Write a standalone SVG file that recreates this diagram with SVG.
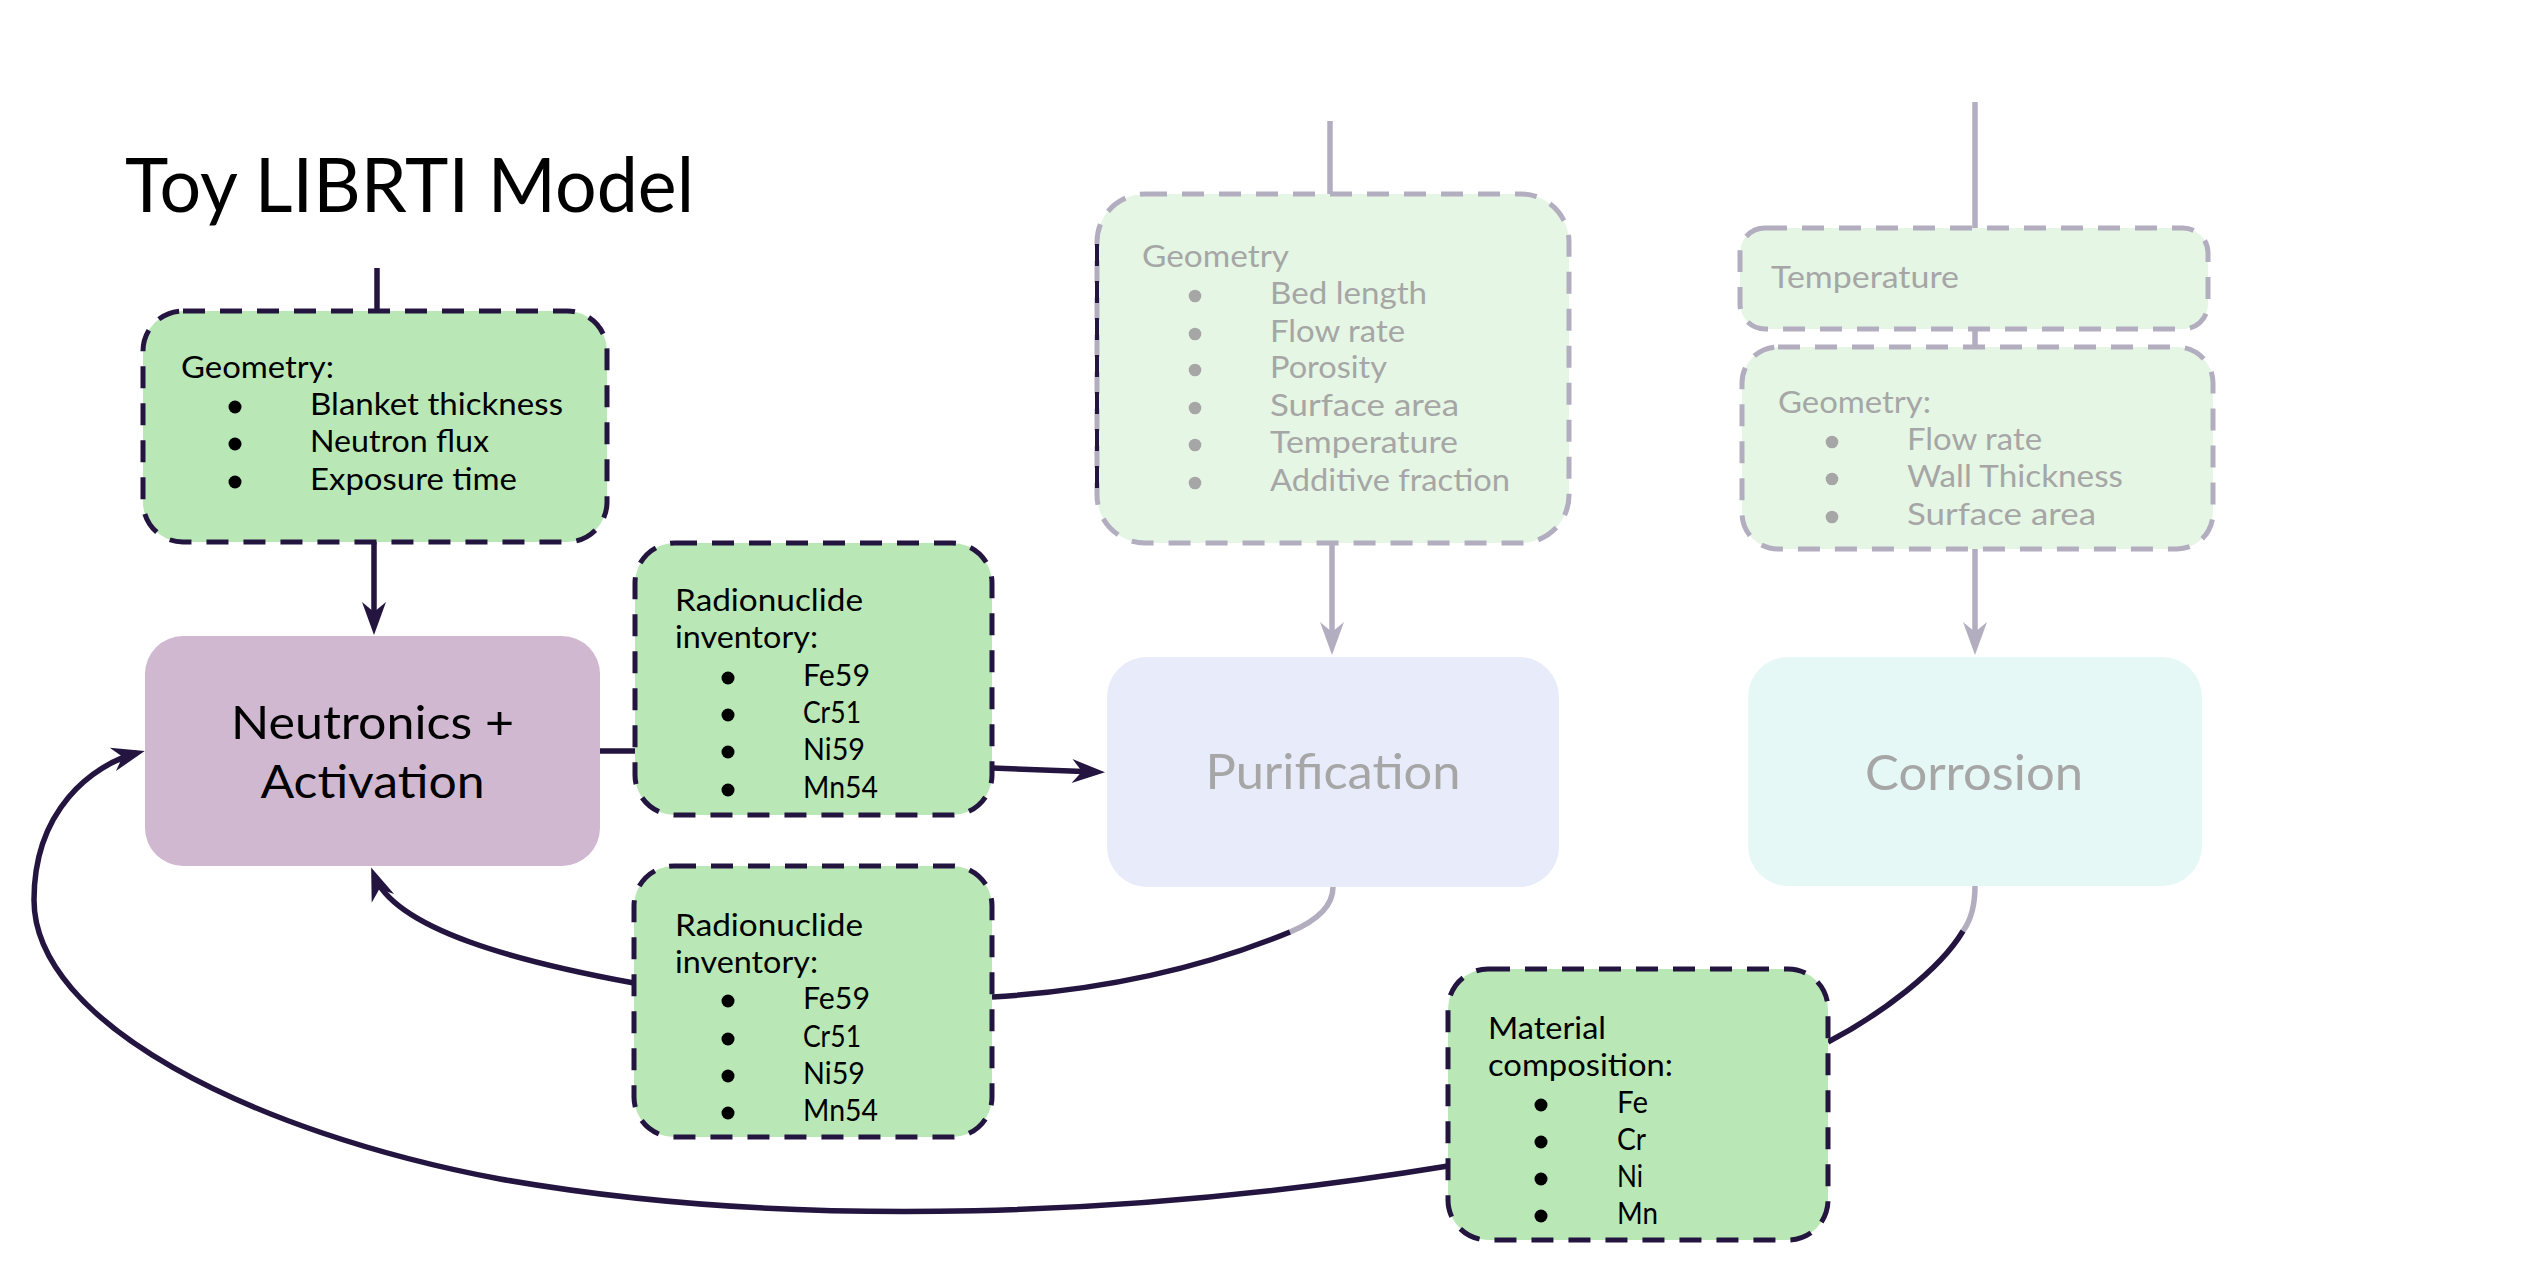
<svg xmlns="http://www.w3.org/2000/svg" width="2539" height="1288" viewBox="0 0 2539 1288">
<defs>
<style>
text{font-family:Lato,"Open Sans","Liberation Sans",sans-serif;}
.t{font-size:30px;fill:#000;}
.g{font-size:30px;fill:#a6a6a6;}
.big{font-size:46px;fill:#000;text-anchor:middle;}
.bigg{font-size:48px;fill:#a6a6a6;text-anchor:middle;}
.dbox{fill:#b9e8b6;stroke:#231540;stroke-width:5;stroke-dasharray:22 15;}
.gbox{fill:#e5f6e4;stroke:#b3adc0;stroke-width:5;stroke-dasharray:22 15;}
.dl{fill:none;stroke:#231540;stroke-width:5.5;}
.gl{fill:none;stroke:#b3adc0;stroke-width:5.5;}
.bd{fill:#000;}
.bg{fill:#a6a6a6;}
</style>
<marker id="ad" markerUnits="userSpaceOnUse" markerWidth="60" markerHeight="60" refX="0" refY="0" orient="auto" overflow="visible">
<path d="M8 0 L-25 -12 L-15 0 L-25 12 Z" fill="#231540"/>
</marker>
<marker id="ag" markerUnits="userSpaceOnUse" markerWidth="60" markerHeight="60" refX="0" refY="0" orient="auto" overflow="visible">
<path d="M8 0 L-25 -12 L-15 0 L-25 12 Z" fill="#b3adc0"/>
</marker>
</defs>
<rect width="2539" height="1288" fill="#fff"/>

<g id="title">
<text x="125" y="212" style="font-size:76px;fill:#000" textLength="569" lengthAdjust="spacingAndGlyphs">Toy LIBRTI Model</text>
</g>

<g id="connectors">
<path class="dl" d="M377 268 V311"/>
<path class="dl" d="M374 542 V627" marker-end="url(#ad)"/>
<path class="dl" d="M600 751 H635"/>
<path class="dl" d="M992 768 L1097 772" marker-end="url(#ad)"/>
<path class="gl" d="M1330 121 V194"/>
<path class="gl" d="M1332 543 V647" marker-end="url(#ag)"/>
<path class="gl" d="M1975 102 V228"/>
<path class="gl" d="M1975 329 V347"/>
<path class="gl" d="M1975 549 V647" marker-end="url(#ag)"/>
<path class="gl" d="M1333 887 C1333 908 1314 922 1290 932"/>
<path class="dl" d="M1290 932 C1210 965 1110 990 992 997"/>
<path class="dl" d="M634 983 C520 962 395 930 374 875" marker-end="url(#ad)"/>
<path class="gl" d="M1975 886 C1975 905 1971 920 1963 931"/>
<path class="dl" d="M1963 931 C1940 970 1880 1015 1828 1042"/>
<path class="dl" d="M1448 1166 C1150 1215 800 1232 500 1179 C250 1132 34 1022 34 900 C34 810 92 765 137 753" marker-end="url(#ad)"/>
</g>

<g id="geometry-neutronics">
<rect class="dbox" x="143" y="311" width="464" height="231" rx="40"/>
<text class="t" x="181" y="378" textLength="153" lengthAdjust="spacingAndGlyphs">Geometry:</text>
<circle class="bd" cx="235" cy="407" r="6.5"/>
<circle class="bd" cx="235" cy="444" r="6.5"/>
<circle class="bd" cx="235" cy="482" r="6.5"/>
<text class="t" x="310" y="415" textLength="253" lengthAdjust="spacingAndGlyphs">Blanket thickness</text>
<text class="t" x="310" y="452" textLength="179" lengthAdjust="spacingAndGlyphs">Neutron flux</text>
<text class="t" x="310" y="490" textLength="207" lengthAdjust="spacingAndGlyphs">Exposure time</text>
</g>

<g id="neutronics">
<rect x="145" y="636" width="455" height="230" rx="38" fill="#d1b8d1"/>
<text class="big" x="372.5" y="739" textLength="283" lengthAdjust="spacingAndGlyphs">Neutronics +</text>
<text class="big" x="372.5" y="798" textLength="224" lengthAdjust="spacingAndGlyphs">Activation</text>
</g>

<g id="inventory-out">
<rect class="dbox" x="635" y="543" width="357" height="272" rx="40"/>
<text class="t" x="675" y="611" textLength="188" lengthAdjust="spacingAndGlyphs">Radionuclide</text>
<text class="t" x="675" y="648" textLength="143" lengthAdjust="spacingAndGlyphs">inventory:</text>
<circle class="bd" cx="728" cy="678" r="6.5"/>
<circle class="bd" cx="728" cy="715" r="6.5"/>
<circle class="bd" cx="728" cy="752" r="6.5"/>
<circle class="bd" cx="728" cy="790" r="6.5"/>
<text class="t" x="803" y="686" textLength="67" lengthAdjust="spacingAndGlyphs">Fe59</text>
<text class="t" x="803" y="723" textLength="58" lengthAdjust="spacingAndGlyphs">Cr51</text>
<text class="t" x="803" y="760" textLength="62" lengthAdjust="spacingAndGlyphs">Ni59</text>
<text class="t" x="803" y="798" textLength="75" lengthAdjust="spacingAndGlyphs">Mn54</text>
</g>

<g id="inventory-back">
<rect class="dbox" x="634" y="866" width="358" height="271" rx="40"/>
<text class="t" x="675" y="936" textLength="188" lengthAdjust="spacingAndGlyphs">Radionuclide</text>
<text class="t" x="675" y="973" textLength="143" lengthAdjust="spacingAndGlyphs">inventory:</text>
<circle class="bd" cx="728" cy="1001" r="6.5"/>
<circle class="bd" cx="728" cy="1039" r="6.5"/>
<circle class="bd" cx="728" cy="1076" r="6.5"/>
<circle class="bd" cx="728" cy="1113" r="6.5"/>
<text class="t" x="803" y="1009" textLength="67" lengthAdjust="spacingAndGlyphs">Fe59</text>
<text class="t" x="803" y="1047" textLength="58" lengthAdjust="spacingAndGlyphs">Cr51</text>
<text class="t" x="803" y="1084" textLength="62" lengthAdjust="spacingAndGlyphs">Ni59</text>
<text class="t" x="803" y="1121" textLength="75" lengthAdjust="spacingAndGlyphs">Mn54</text>
</g>

<g id="material">
<rect class="dbox" x="1448" y="969" width="380" height="271" rx="40"/>
<text class="t" x="1488" y="1039" textLength="118" lengthAdjust="spacingAndGlyphs">Material</text>
<text class="t" x="1488" y="1076" textLength="185" lengthAdjust="spacingAndGlyphs">composition:</text>
<circle class="bd" cx="1541" cy="1105" r="6.5"/>
<circle class="bd" cx="1541" cy="1142" r="6.5"/>
<circle class="bd" cx="1541" cy="1179" r="6.5"/>
<circle class="bd" cx="1541" cy="1216" r="6.5"/>
<text class="t" x="1617" y="1113" textLength="31" lengthAdjust="spacingAndGlyphs">Fe</text>
<text class="t" x="1617" y="1150" textLength="29" lengthAdjust="spacingAndGlyphs">Cr</text>
<text class="t" x="1617" y="1187" textLength="26" lengthAdjust="spacingAndGlyphs">Ni</text>
<text class="t" x="1617" y="1224" textLength="41" lengthAdjust="spacingAndGlyphs">Mn</text>
</g>

<g id="purification">
<rect x="1107" y="657" width="452" height="230" rx="40" fill="#e8ebf9"/>
<text class="bigg" x="1333" y="789" textLength="255" lengthAdjust="spacingAndGlyphs">Purification</text>
</g>

<g id="corrosion">
<rect x="1748" y="657" width="454" height="229" rx="40" fill="#e6f8f6"/>
<text class="bigg" x="1974" y="790" textLength="218" lengthAdjust="spacingAndGlyphs">Corrosion</text>
</g>

<g id="geometry-purification">
<rect class="gbox" x="1097" y="194" width="472" height="349" rx="48"/>
<path d="M1097 244 V493" fill="none" stroke="#231540" stroke-width="4" stroke-dasharray="22 15"/>
<text class="g" x="1142" y="267" textLength="147" lengthAdjust="spacingAndGlyphs">Geometry</text>
<circle class="bg" cx="1195" cy="296" r="6.3"/>
<circle class="bg" cx="1195" cy="334" r="6.3"/>
<circle class="bg" cx="1195" cy="370" r="6.3"/>
<circle class="bg" cx="1195" cy="408" r="6.3"/>
<circle class="bg" cx="1195" cy="445" r="6.3"/>
<circle class="bg" cx="1195" cy="483" r="6.3"/>
<text class="g" x="1270" y="304" textLength="157" lengthAdjust="spacingAndGlyphs">Bed length</text>
<text class="g" x="1270" y="342" textLength="135" lengthAdjust="spacingAndGlyphs">Flow rate</text>
<text class="g" x="1270" y="378" textLength="117" lengthAdjust="spacingAndGlyphs">Porosity</text>
<text class="g" x="1270" y="416" textLength="189" lengthAdjust="spacingAndGlyphs">Surface area</text>
<text class="g" x="1270" y="453" textLength="188" lengthAdjust="spacingAndGlyphs">Temperature</text>
<text class="g" x="1270" y="491" textLength="240" lengthAdjust="spacingAndGlyphs">Additive fraction</text>
</g>

<g id="temperature-corrosion">
<rect class="gbox" x="1740" y="228" width="468" height="101" rx="25"/>
<text class="g" x="1771" y="288" textLength="188" lengthAdjust="spacingAndGlyphs">Temperature</text>
</g>

<g id="geometry-corrosion">
<rect class="gbox" x="1742" y="347" width="471" height="202" rx="36"/>
<text class="g" x="1778" y="413" textLength="153" lengthAdjust="spacingAndGlyphs">Geometry:</text>
<circle class="bg" cx="1832" cy="442" r="6.3"/>
<circle class="bg" cx="1832" cy="479" r="6.3"/>
<circle class="bg" cx="1832" cy="517" r="6.3"/>
<text class="g" x="1907" y="450" textLength="135" lengthAdjust="spacingAndGlyphs">Flow rate</text>
<text class="g" x="1907" y="487" textLength="216" lengthAdjust="spacingAndGlyphs">Wall Thickness</text>
<text class="g" x="1907" y="525" textLength="189" lengthAdjust="spacingAndGlyphs">Surface area</text>
</g>
</svg>
